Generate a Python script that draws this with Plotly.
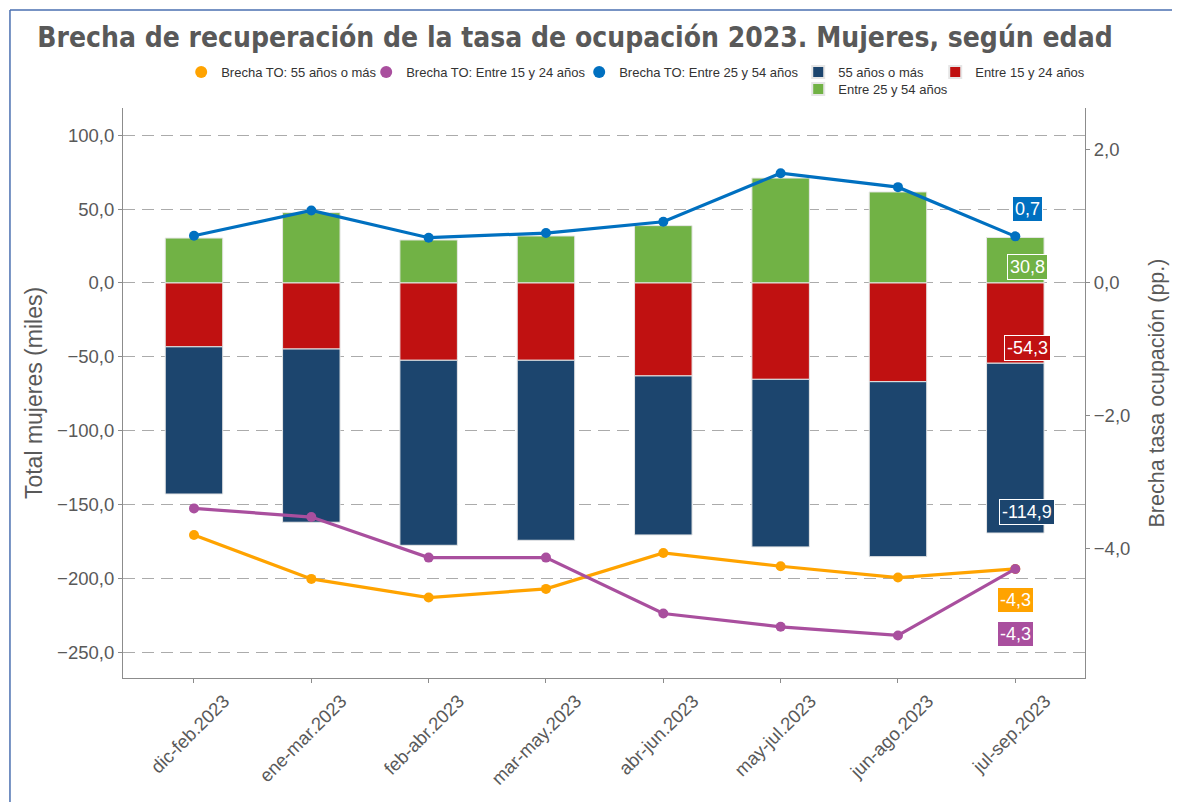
import plotly.graph_objects as go

categories = ["dic-feb.2023", "ene-mar.2023", "feb-abr.2023", "mar-may.2023",
              "abr-jun.2023", "may-jul.2023", "jun-ago.2023", "jul-sep.2023"]

# Bars: total mujeres (miles)
bar_25_54 = [30.4, 47.6, 29.1, 31.8, 38.8, 71.0, 61.6, 30.8]
bar_15_24 = [-43.2, -44.7, -52.3, -52.3, -62.9, -65.2, -66.8, -54.3]
bar_55 = [-99.6, -117.2, -125.2, -121.8, -107.6, -113.4, -118.4, -114.9]

# Lines: brecha tasa ocupación (pp.)
to_55 = [-3.79, -4.45, -4.73, -4.60, -4.06, -4.26, -4.43, -4.3]
to_15_24 = [-3.39, -3.52, -4.13, -4.13, -4.97, -5.17, -5.30, -4.3]
to_25_54 = [0.71, 1.09, 0.68, 0.75, 0.92, 1.65, 1.44, 0.7]

left_ticks = [100, 50, 0, -50, -100, -150, -200, -250]
right_ticks = [2, 0, -2, -4]

C_ORANGE = "#FFA300"
C_PURPLE = "#A94F9E"
C_BLUE = "#0070C0"
C_NAVY = "#1C456E"
C_RED = "#C01111"
C_GREEN = "#71B245"

FONT = "Liberation Sans, Arial, sans-serif"
GRAY = "#595959"

fig = go.Figure()

bar_line = dict(color="#E6E6E6", width=1)
fig.add_trace(go.Bar(x=categories, y=bar_25_54, name="Entre 25 y 54 años",
                     marker=dict(color=C_GREEN, line=bar_line), legend="legend6"))
fig.add_trace(go.Bar(x=categories, y=bar_15_24, name="Entre 15 y 24 años",
                     marker=dict(color=C_RED, line=bar_line), legend="legend5"))
fig.add_trace(go.Bar(x=categories, y=bar_55, name="55 años o más",
                     marker=dict(color=C_NAVY, line=bar_line), legend="legend4"))

line_series = [
    ("Brecha TO: 55 años o más", to_55, C_ORANGE, "legend"),
    ("Brecha TO: Entre 15 y 24 años", to_15_24, C_PURPLE, "legend2"),
    ("Brecha TO: Entre 25 y 54 años", to_25_54, C_BLUE, "legend3"),
]
for name, vals, col, leg in line_series:
    fig.add_trace(go.Scatter(x=categories, y=vals, yaxis="y2", mode="lines+markers",
                             line=dict(color=col, width=3.2),
                             marker=dict(color=col, size=10),
                             name=name, showlegend=False))
    # legend entry showing only the dot
    fig.add_trace(go.Scatter(x=[None], y=[None], yaxis="y2", mode="markers",
                             marker=dict(color=col, size=10),
                             name=name, legend=leg))

# end-of-series labels
last = len(categories) - 1
def box_label(val, txt, col, yref, xshift, yshift):
    fig.add_annotation(x=categories[last], y=val, yref=yref, text=txt,
                       showarrow=False, xshift=xshift, yshift=yshift,
                       font=dict(color="white", size=18, family=FONT),
                       bgcolor=col, bordercolor="white", borderwidth=1, borderpad=2)

box_label(to_25_54[last], "0,7", C_BLUE, "y2", 12, 27)
box_label(bar_25_54[last], "30,8", C_GREEN, "y", 12, -30)
box_label(bar_15_24[last], "-54,3", C_RED, "y", 12, 15)
box_label(bar_15_24[last] + bar_55[last], "-114,9", C_NAVY, "y", 12, 21)
box_label(to_55[last], "-4,3", C_ORANGE, "y2", 0, -31)
box_label(to_15_24[last], "-4,3", C_PURPLE, "y2", 0, -65)

# frame lines (top and left)
fig.add_shape(type="line", xref="paper", yref="paper", x0=-0.1175, x1=1.12,
              y0=1.1719, y1=1.1719, line=dict(color="#4A6FB0", width=1.5))
fig.add_shape(type="line", xref="paper", yref="paper", x0=-0.1175, x1=-0.1175,
              y0=1.1719, y1=-0.3, line=dict(color="#4A6FB0", width=1.5))

leg_common = dict(orientation="h", xanchor="left", yanchor="middle",
                  font=dict(size=13, color="#333333", family=FONT),
                  itemsizing="constant", bgcolor="rgba(0,0,0,0)")
row1, row2 = 1.0632, 1.0333
dx = -0.006

fig.update_layout(
    width=1180, height=802,
    margin=dict(l=115, r=103, t=100, b=132),
    paper_bgcolor="white", plot_bgcolor="white",
    barmode="relative", bargap=0.51,
    separators=",.",
    font=dict(family=FONT, color=GRAY),
    title=dict(text="<b>Brecha de recuperación de la tasa de ocupación 2023. Mujeres, según edad</b>",
               x=0.4805, xanchor="center", y=0.9638, yanchor="middle",
               font=dict(family="Liberation Sans Narrow, DejaVu Sans Condensed, sans-serif",
                         size=28, color=GRAY)),
    legend=dict(x=0.0665 + dx, y=row1, **leg_common),
    legend2=dict(x=0.2588 + dx, y=row1, **leg_common),
    legend3=dict(x=0.4802 + dx, y=row1, **leg_common),
    legend4=dict(x=0.7079 + dx, y=row1, **leg_common),
    legend5=dict(x=0.8503 + dx, y=row1, **leg_common),
    legend6=dict(x=0.7079 + dx, y=row2, **leg_common),
    xaxis=dict(range=[-0.605, 7.594], showgrid=False, showline=True,
               linecolor="#8C8C8C", linewidth=1.2, ticks="outside", ticklen=4,
               tickcolor="#8C8C8C", tickangle=-45, ticklabelshift=30,
               tickfont=dict(size=18.5, color=GRAY)),
    yaxis=dict(range=[-267.3, 118.4], tickvals=left_ticks, tickformat=".1f",
               showgrid=True, gridcolor="#ABABAB", gridwidth=1.3, griddash="12px,7px",
               zeroline=False, showline=True, linecolor="#8C8C8C", linewidth=1.2,
               ticks="outside", ticklen=4, tickcolor="#8C8C8C",
               tickfont=dict(size=18.5, color=GRAY),
               title=dict(text="Total mujeres (miles)", font=dict(size=23, color=GRAY),
                          standoff=8)),
    yaxis2=dict(range=[-5.94, 2.63], tickvals=right_ticks, tickformat=".1f",
                overlaying="y", side="right", showgrid=False, zeroline=False,
                showline=True, linecolor="#8C8C8C", linewidth=1.2,
                ticks="outside", ticklen=4, tickcolor="#8C8C8C",
                tickfont=dict(size=18.5, color=GRAY),
                title=dict(text="Brecha tasa ocupación (pp.)", font=dict(size=21.5, color=GRAY),
                           standoff=19)),
)

fig.write_html("out.html")
